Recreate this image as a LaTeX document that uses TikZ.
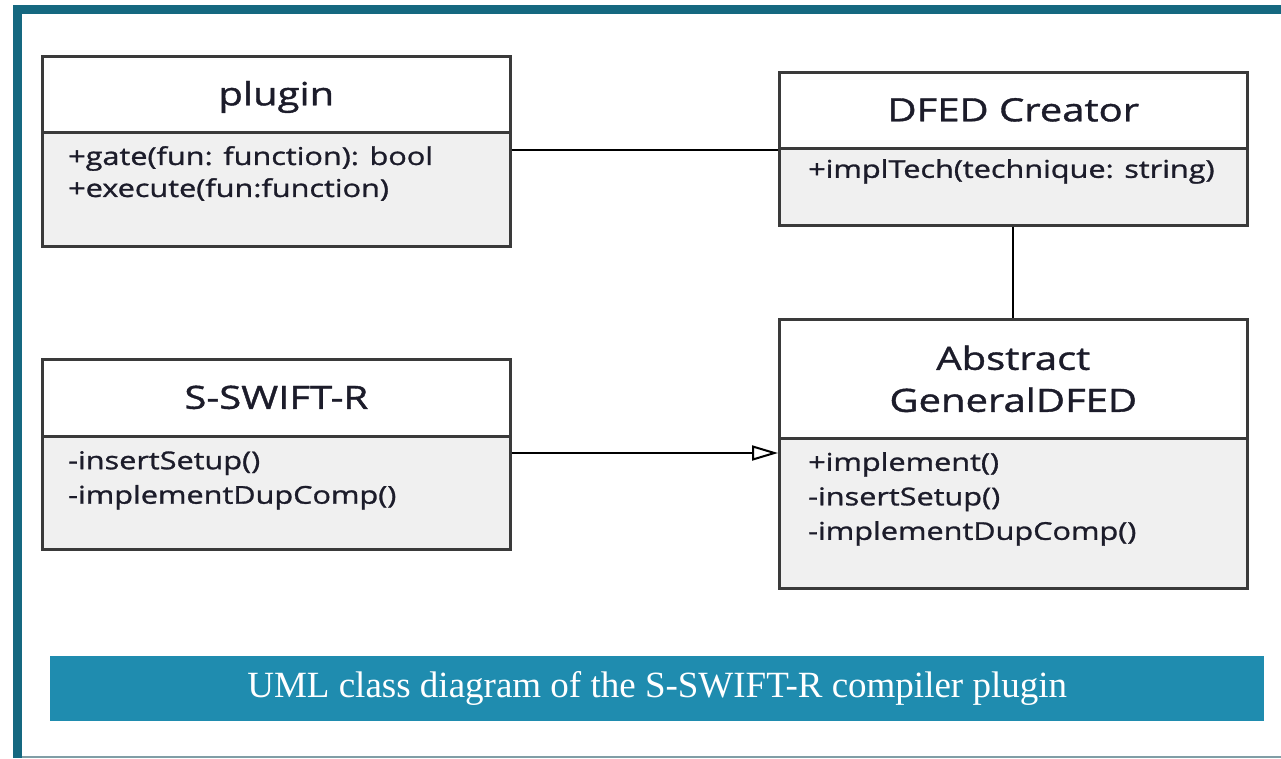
\documentclass[tikz,border=0pt]{standalone}
\usepackage{fontspec}
\setmainfont{Liberation Serif}
\newfontfamily\umlfont[FakeStretch=1.25, FakeBold=1.2]{Open Sans}
\usetikzlibrary{arrows.meta}
\definecolor{frameteal}{HTML}{156880}
\definecolor{captionblue}{HTML}{1F8CAF}
\definecolor{bodygray}{HTML}{F0F0F0}
\definecolor{boxline}{HTML}{3A3A3A}
\definecolor{inktext}{HTML}{1C1C2A}
\tikzset{
  classhead/.style={draw=boxline, line width=2.6pt, fill=white, rectangle,
    anchor=north west, inner sep=0pt, minimum width=468pt,
    font=\umlfont\fontsize{32}{42}\selectfont, text=inktext, align=center},
  onelinehead/.style={classhead, text height=24pt, text depth=2pt},
  classbody/.style={draw=boxline, line width=2.6pt, fill=bodygray, rectangle,
    anchor=north west, inner sep=0pt, minimum width=468pt},
  ops/.style={anchor=north west, inner sep=0pt, align=left, text=inktext,
    font=\umlfont\fontsize{24.5}{34.5}\selectfont},
  link/.style={draw=black, line width=2pt},
}
\begin{document}
\begin{tikzpicture}[x=1pt, y=-1pt]
\useasboundingbox (0,0) rectangle (1281,758);
% outer frame
\fill[white] (0,0) rectangle (1281,758);
\fill[frameteal] (13,5) rectangle (1281,13.5);
\fill[frameteal] (13,5) rectangle (21.5,758);
\draw[color=frameteal!50!gray!70, line width=1.5pt] (21.5,757) -- (1281,757);

% class plugin
\node[onelinehead, minimum height=76pt] (pluginhead) at (41,55) {plugin};
\node[classbody, minimum height=114pt] (pluginbody) at (41,131) {};
\node[ops, font=\umlfont\fontsize{24.5}{32}\selectfont] (pluginops) at (68,146)
  {+gate(fun: function): bool\\+execute(fun:function)};

% class DFED Creator
\node[onelinehead, minimum height=76pt] (creatorhead) at (778,71) {DFED Creator};
\node[classbody, minimum height=77pt] (creatorbody) at (778,147) {};
\node[ops] (creatorops) at (808,159) {+implTech(technique: string)};

% class S-SWIFT-R
\node[onelinehead, minimum height=77pt] (swifthead) at (41,358) {S-SWIFT-R};
\node[classbody, minimum height=113pt] (swiftbody) at (41,435) {};
\node[ops] (swiftops) at (68,451) {-insertSetup()\\-implementDupComp()};

% class Abstract GeneralDFED
\node[classhead, minimum height=119pt] (generalhead) at (778,318) {Abstract\\GeneralDFED};
\node[classbody, minimum height=150pt] (generalbody) at (778,437) {};
\node[ops] (generalops) at (808,452) {+implement()\\-insertSetup()\\-implementDupComp()};

% associations
\draw[link] ([yshift=-19pt]pluginbody.north east) -- ([yshift=-19pt]pluginbody.north east -| creatorbody.west);
\draw[link] (creatorbody.south) -- (generalhead.north);
% generalization
\draw[link, -{Triangle[open, length=26pt, width=15pt, line width=2pt]}]
  ([yshift=-18pt]swiftbody.north east) -- ([yshift=-18pt]swiftbody.north east -| generalbody.west);

% caption
\node[fill=captionblue, minimum width=1214pt, minimum height=65pt, inner sep=0pt,
  anchor=north west, text=white, font=\fontsize{37}{42}\selectfont] (caption) at (50,656)
  {UML class diagram of the S-SWIFT-R compiler plugin};
\end{tikzpicture}
\end{document}
